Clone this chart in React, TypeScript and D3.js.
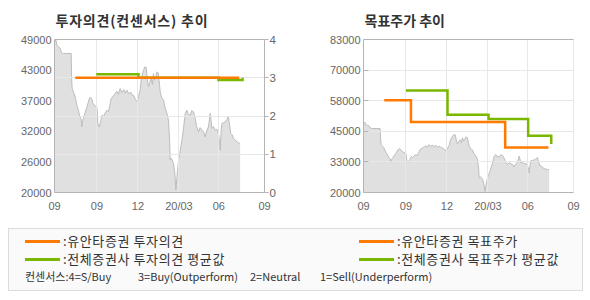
import React from 'react';
import * as d3 from 'd3';

// x axis: months from start of chart
const xTickLabels = ['09', '09', '12', '20/03', '06', '09'];
const xTickMonths = [0, 3.03, 5.96, 8.89, 11.74, 15];

// share price (month offset, price)
const priceMonths = [
  0, 0.1, 0.17, 0.3, 0.41, 0.5, 0.55, 0.64, 0.9, 1.19, 1.22, 1.26, 1.36, 1.48, 1.6, 1.71, 1.8, 1.9, 1.96, 2.0,
  2.1, 2.19, 2.3, 2.45, 2.55, 2.65, 2.75, 2.9, 3.03, 3.1, 3.19, 3.3, 3.4, 3.5, 3.6, 3.75, 3.86, 3.95, 4.05, 4.2,
  4.34, 4.45, 4.55, 4.69, 4.8, 4.95, 5.05, 5.17, 5.3, 5.45, 5.55, 5.64, 5.75, 5.89, 6.0, 6.12, 6.2, 6.36, 6.45, 6.55,
  6.63, 6.71, 6.8, 6.9, 7.0, 7.07, 7.15, 7.25, 7.31, 7.4, 7.5, 7.55, 7.65, 7.79, 7.9, 8.03, 8.1, 8.14, 8.22, 8.26,
  8.35, 8.5, 8.6, 8.67, 8.75, 8.86, 8.95, 9.1, 9.2, 9.34, 9.46, 9.55, 9.69, 9.8, 9.93, 10.0, 10.05, 10.15, 10.29, 10.4,
  10.53, 10.65, 10.76, 10.88, 11.0, 11.12, 11.2, 11.24, 11.35, 11.48, 11.6, 11.71, 11.8, 11.84, 11.9, 11.96, 12.05, 12.19, 12.3, 12.42,
  12.5, 12.59, 12.7, 12.79, 12.9, 13.03, 13.15, 13.26,
];
const priceValues = [
  48500, 48900, 47900, 47600, 47300, 46500, 46400, 46350, 46350, 46350, 42000, 39700, 39000, 38100, 36500, 35600, 34500, 33800, 32450, 33600,
  34300, 35200, 36000, 37500, 38100, 37800, 36900, 36400, 36240, 33000, 32450, 33500, 34700, 34350, 35000, 35600, 35300, 36500, 37800, 38300,
  38800, 39200, 38600, 39700, 39000, 39500, 38800, 39400, 38700, 39000, 38400, 38450, 37800, 37190, 38200, 39400, 41500, 43190, 43800, 43700,
  41500, 40030, 40800, 41700, 40500, 42560, 41300, 42000, 42860, 42670, 40500, 39080, 38000, 37500, 36000, 35000, 34200, 33720, 30000, 26150,
  26500, 25530, 23500, 20470, 23000, 26150, 27400, 29940, 31800, 35000, 35600, 34800, 34670, 35500, 35300, 34600, 34050, 32500, 31500, 32300,
  31830, 31500, 30560, 31800, 32450, 35000, 33200, 32150, 32500, 31830, 32000, 31200, 29500, 28040, 31500, 33100, 33200, 33400, 33800, 34350,
  32800, 31200, 30900, 30260, 29900, 29620, 29400, 29310,
];

// investment opinion (0-4)
const opinionMonths = [1.48, 13.19];
const opinionValues = [3, 3];
const avgOpinionMonths = [2.98, 6.0, 11.71, 13.43];
const avgOpinionValues = [3.09, 3.0, 2.94, 3.0];

// target price
const targetMonths = [1.48, 3.39, 10.12, 13.21];
const targetValues = [58000, 49000, 38500, 38500];
const avgTargetMonths = [3.03, 6.0, 8.93, 11.76, 13.41];
const avgTargetValues = [62000, 52000, 50300, 43400, 40000];

const opinionTicks = [0, 1, 2, 3, 4];
const leftDomain = [20000, 49000];
const targetDomain = [20000, 83000];

const ORANGE = '#ff7a00';
const GREEN = '#7ab800';
const AXIS = '#b4b4b4';
const GRID = '#e8e8e8';
const LABEL = '#666';
const NUMFONT = '"Liberation Sans", Arial, sans-serif';
const KFONT = '"Noto Sans CJK KR", "Noto Sans", sans-serif';

const crisp = (v: number) => Math.round(v - 0.5) + 0.5;

function Panel({ left, title, titleSpacing, priceDomain, mode }: { left: number; title: string; titleSpacing: number; priceDomain: number[]; mode: 'opinion' | 'target' }) {
  const x0 = left, x1 = left + 210;
  const yTop = 39.5, yBot = 192.5;
  const x = d3.scaleLinear().domain([0, 15]).range([x0, x1]);
  const yP = d3.scaleLinear().domain(priceDomain).range([yBot, yTop]);
  const yO = d3.scaleLinear().domain([0, 4]).range([yBot, yTop]);
  const priceTicks = d3.range(6).map((i) => priceDomain[0] + (i * (priceDomain[1] - priceDomain[0])) / 5);
  const fmt = (v: number) => String(Math.round(v / 1000) * 1000);

  const priceData = priceMonths.map((m, i) => [m, priceValues[i]] as [number, number]);
  const area = d3.area<[number, number]>().x((d) => x(d[0])).y0(yBot).y1((d) => yP(d[1]));
  const priceLine = d3.line<[number, number]>().x((d) => x(d[0])).y((d) => yP(d[1]));

  const step = (ms: number[], vs: number[], y: d3.ScaleLinear<number, number>) =>
    d3.line<[number, number]>().x((d) => x(d[0])).y((d) => y(d[1])).curve(d3.curveStepAfter)(ms.map((m, i) => [m, vs[i]]))!;

  const hGrid = mode === 'opinion' ? opinionTicks.map((t) => yO(t)) : priceTicks.map((t) => yP(t));

  return (
    <g>
      <text x={left + 1} y={26} fontFamily={KFONT} fontWeight="bold" fontSize={14} letterSpacing={titleSpacing} fill="#333">{title}</text>
      <path d={area(priceData)!} fill="#e0e0e0" />
      <path d={priceLine(priceData)!} fill="none" stroke="#bdbdbd" strokeWidth={1} />
      {hGrid.map((y, i) => (
        <line key={'h' + i} x1={x0} x2={x1} y1={crisp(y)} y2={crisp(y)} stroke={GRID} />
      ))}
      {xTickMonths.map((m, i) => (
        <line key={'v' + i} x1={crisp(x(m))} x2={crisp(x(m))} y1={yTop} y2={yBot} stroke={GRID} />
      ))}
      {/* frame */}
      <line x1={x0} x2={x1} y1={yTop} y2={yTop} stroke={AXIS} />
      <line x1={x0} x2={x1} y1={yBot} y2={yBot} stroke={AXIS} />
      <line x1={x0} x2={x0} y1={yTop} y2={yBot} stroke={AXIS} />
      {mode === 'opinion' && <line x1={x1} x2={x1} y1={yTop} y2={yBot} stroke={AXIS} />}
      {/* left labels */}
      {priceTicks.map((t, i) => (
        <g key={'pl' + i}>
          {mode === 'target' && i > 0 && i < 5 && (
            <line x1={x0} x2={x0 + 5} y1={crisp(yP(t))} y2={crisp(yP(t))} stroke={AXIS} />
          )}
          <text x={x0 - 3} y={yP(t) + 4} textAnchor="end" fontFamily={NUMFONT} fontSize={11} fill={LABEL}>{fmt(t)}</text>
        </g>
      ))}
      {mode === 'opinion' &&
        opinionTicks.map((t, i) => (
          <g key={'ol' + i}>
            <line x1={x1} x2={x1 + 4} y1={crisp(yO(t))} y2={crisp(yO(t))} stroke={AXIS} />
            <text x={x1 + 5} y={yO(t) + 4} fontFamily={NUMFONT} fontSize={11.5} fill={LABEL}>{t}</text>
          </g>
        ))}
      {xTickMonths.map((m, i) => (
        <text key={'xl' + i} x={x(m)} y={210} textAnchor="middle" fontFamily={NUMFONT} fontSize={11} fill={LABEL}>{xTickLabels[i]}</text>
      ))}
      {mode === 'opinion' ? (
        <g fill="none" strokeWidth={2.5}>
          <path d={step(avgOpinionMonths, avgOpinionValues, yO)} stroke={GREEN} />
          <path d={step(opinionMonths, opinionValues, yO)} stroke={ORANGE} />
        </g>
      ) : (
        <g fill="none" strokeWidth={2.5}>
          <path d={step(avgTargetMonths, avgTargetValues, yP)} stroke={GREEN} />
          <path d={step(targetMonths, targetValues, yP)} stroke={ORANGE} />
        </g>
      )}
    </g>
  );
}

const legendItems = [
  { color: ORANGE, label: ':유안타증권 투자의견', col: 0, row: 0 },
  { color: ORANGE, label: ':유안타증권 목표주가', col: 1, row: 0 },
  { color: GREEN, label: ':전체증권사 투자의견 평균값', col: 0, row: 1 },
  { color: GREEN, label: ':전체증권사 목표주가 평균값', col: 1, row: 1 },
];
const consensusParts = ['컨센서스:4=S/Buy', '3=Buy(Outperform)', '2=Neutral', '1=Sell(Underperform)'];

export default function App() {
  const colX = [25, 359];
  const rowY = [241.5, 259.5];
  const partX = [25, 138, 250, 320];
  return (
    <svg width={590} height={300} style={{ position: 'absolute', left: 0, top: 0, background: '#fff' }}>
      <Panel left={54.5} title="투자의견(컨센서스) 추이" titleSpacing={0.8} priceDomain={leftDomain} mode="opinion" />
      <Panel left={363.5} title="목표주가 추이" titleSpacing={0} priceDomain={targetDomain} mode="target" />
      <rect x={8.5} y={228.5} width={574} height={62} fill="#fafafa" stroke="#dcdcdc" />
      {legendItems.map((it, i) => (
        <g key={i}>
          <line x1={colX[it.col]} x2={colX[it.col] + 35} y1={rowY[it.row]} y2={rowY[it.row]} stroke={it.color} strokeWidth={3} />
          <text x={colX[it.col] + 38} y={rowY[it.row] + 4.5} fontFamily={KFONT} fontSize={13} letterSpacing={0.6} fill="#333">{it.label}</text>
        </g>
      ))}
      {consensusParts.map((p, i) => (
        <text key={i} x={partX[i]} y={281} fontFamily={KFONT} fontSize={11} fill="#333">{p}</text>
      ))}
    </svg>
  );
}
